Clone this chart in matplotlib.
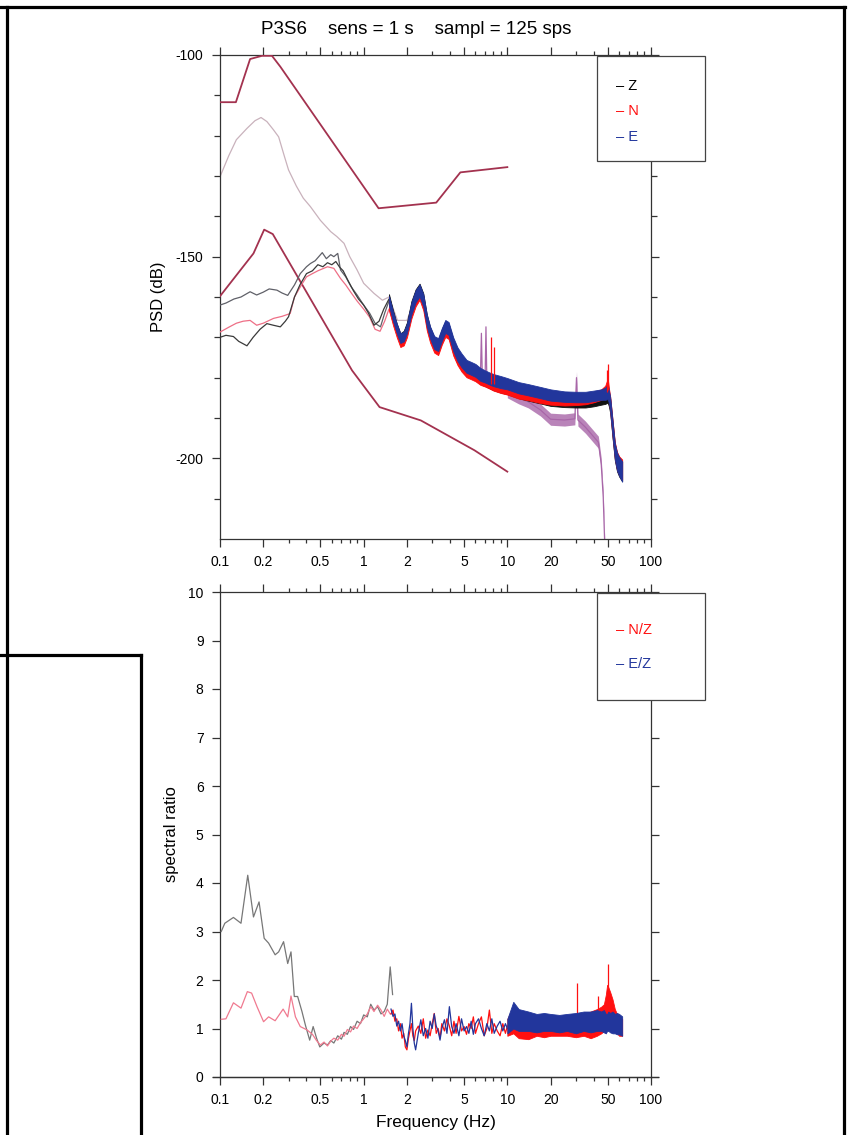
import matplotlib
matplotlib.use("Agg")
import matplotlib.pyplot as plt
from matplotlib.lines import Line2D
from matplotlib.patches import Rectangle
from matplotlib.ticker import FixedLocator, FixedFormatter, NullFormatter

plt.rcParams['font.family'] = ['Liberation Sans', 'DejaVu Sans']
plt.rcParams['axes.unicode_minus'] = False

# ---------------------------------------------------------------- data
title_text = "P3S6    sens = 1 s    sampl = 125 sps"
freq_ticks = [0.1, 0.2, 0.5, 1, 2, 5, 10, 20, 50, 100]
freq_tick_labels = ["0.1", "0.2", "0.5", "1", "2", "5", "10", "20", "50", "100"]
psd_ticks = [-100, -150, -200]
psd_tick_labels = ["-100", "-150", "-200"]
ratio_ticks = [0, 1, 2, 3, 4, 5, 6, 7, 8, 9, 10]

# high / low noise models
nhnm_f = [0.1, 0.129, 0.162, 0.196, 0.23, 0.263, 1.27, 3.2, 4.71, 10.0]
nhnm_db = [-111.7, -111.7, -101.0, -100.2, -100.2, -102.9, -138.0, -136.6, -129.1, -127.8]
nlnm_f = [0.1, 0.171, 0.203, 0.233, 0.83, 1.29, 2.5, 5.9, 10.0]
nlnm_db = [-159.8, -149.2, -143.3, -144.4, -178.2, -187.3, -190.6, -198.0, -203.3]

# light reference spectrum
ref_f = [0.10, 0.115, 0.13, 0.154, 0.175, 0.193, 0.212, 0.235, 0.256, 0.28, 0.30,
         0.34, 0.38, 0.426, 0.5, 0.59, 0.65, 0.73, 0.8, 0.9, 1.0, 1.18, 1.35, 1.5,
         1.72, 2.0, 2.37, 2.5, 2.7, 3.0, 3.3, 3.6, 3.9, 4.3, 5.0, 5.9, 6.5, 6.6,
         6.7, 7.0, 7.1, 7.2, 8.0, 9.0, 10, 12, 14, 17, 20, 25, 29.5, 30.3, 31,
         35, 40, 43, 45, 46.5, 47.6]
ref_db = [-130.2, -125.0, -121.0, -118.2, -116.3, -115.5, -116.5, -118.5, -120.3, -125.0, -128.5,
          -132.5, -135.5, -137.6, -141.0, -143.8, -145.0, -146.7, -150.0, -153.3, -156.6, -159.1, -160.8, -160.0,
          -165.8, -165.8, -159.1, -159.0, -165.0, -170.0, -172.5, -168.5, -167.5, -172.5, -176.5, -178.5, -179.5, -169.0,
          -180.0, -180.3, -167.4, -180.5, -181.5, -182.3, -183.5, -185.0, -186.0, -188.0, -190.3, -190.5, -190.2, -180.0, -190.5,
          -192.3, -194.7, -196.0, -201.3, -209.6, -221.0]

# long-window spectra of Z, N, E below 1.6 Hz
z_low_f = [0.10, 0.11, 0.124, 0.135, 0.154, 0.17, 0.19, 0.212, 0.235, 0.263, 0.285, 0.30,
           0.33, 0.36, 0.40, 0.44, 0.48, 0.52, 0.56, 0.60, 0.64, 0.68, 0.72, 0.78, 0.85,
           0.92, 1.0, 1.08, 1.18, 1.28, 1.38, 1.5, 1.6]
z_low_db = [-170.0, -169.5, -169.8, -171.0, -172.1, -170.0, -168.0, -166.6, -167.0, -167.4, -166.0, -164.9,
            -160.0, -157.0, -154.2, -153.5, -152.0, -152.5, -151.5, -152.0, -151.2, -152.6, -153.5, -156.0, -158.5,
            -160.5, -162.0, -164.0, -167.0, -166.0, -163.0, -160.5, -164.0]
e_low_f = [0.10, 0.11, 0.125, 0.14, 0.162, 0.18, 0.20, 0.22, 0.249, 0.27, 0.296, 0.33,
           0.362, 0.40, 0.426, 0.46, 0.515, 0.55, 0.59, 0.62, 0.66, 0.69, 0.75, 0.82,
           0.90, 1.0, 1.1, 1.2, 1.31, 1.4, 1.5, 1.6]
e_low_db = [-162.0, -161.5, -160.5, -160.0, -158.7, -159.5, -158.8, -158.0, -158.3, -159.0, -159.6, -157.0,
            -154.2, -152.5, -151.7, -151.0, -149.0, -150.5, -149.5, -150.0, -149.2, -153.3, -155.0, -157.5,
            -159.5, -162.0, -164.0, -166.5, -167.4, -164.0, -161.0, -165.0]
n_low_f = [0.10, 0.115, 0.13, 0.145, 0.162, 0.18, 0.20, 0.236, 0.27, 0.308, 0.33, 0.362,
           0.40, 0.44, 0.48, 0.56, 0.62, 0.69, 0.75, 0.82, 0.90, 1.0, 1.1, 1.2, 1.3,
           1.4, 1.5, 1.6]
n_low_db = [-168.7, -167.5, -166.5, -166.0, -165.8, -167.0, -166.5, -165.3, -164.8, -164.1, -160.0, -157.5,
            -155.0, -154.2, -153.5, -152.5, -152.9, -155.4, -157.0, -159.0, -161.0, -163.0, -165.0, -168.0, -168.5,
            -166.0, -163.0, -166.0]

# short-window spectra above 1.5 Hz (band centre and half-width of the scatter)
hf_f = [1.5, 1.6, 1.7, 1.8, 1.9, 2.0, 2.15, 2.3, 2.45, 2.6, 2.75, 2.9, 3.1, 3.3, 3.5, 3.7,
        3.9, 4.2, 4.5, 4.8, 5.2, 5.6, 6.0, 6.5, 7.0, 7.5, 8.0, 9.0, 10, 12, 14, 17, 20,
        25, 30, 35, 40, 45, 48, 50, 51, 52, 54, 56, 58, 60, 63]
z_hf_db = [-160.5, -164.5, -167.8, -170.2, -169.6, -167.5, -162.5, -159.6, -158.2, -160.6, -165.8, -169.0,
           -171.6, -172.2, -169.6, -167.6, -168.2, -172.2, -174.8, -176.4, -178.0, -178.5, -179.0, -180.0,
           -180.6, -181.1, -181.6, -182.2, -182.7, -183.7, -184.3, -185.0, -185.6, -186.0, -186.1, -186.1,
           -185.8, -185.4, -185.0, -184.4, -185.6, -187.0, -193.0, -198.5, -201.0, -202.2, -203.2]
n_hf_db = [-162.0, -165.8, -168.8, -171.2, -170.8, -168.8, -163.8, -160.8, -159.2, -161.8, -166.8, -169.8,
           -172.2, -172.8, -170.2, -168.3, -168.8, -172.8, -175.2, -176.8, -178.3, -178.8, -179.3, -180.2,
           -180.7, -181.2, -181.7, -182.3, -182.8, -183.8, -184.2, -184.9, -185.3, -185.6, -185.5, -185.3,
           -184.8, -184.2, -183.5, -182.0, -184.3, -186.5, -192.5, -198.0, -200.6, -201.8, -202.8]
e_hf_db = [-161.0, -164.8, -167.8, -170.2, -169.8, -167.8, -162.8, -159.8, -158.4, -160.8, -165.8, -168.8,
           -171.3, -171.8, -169.3, -167.3, -167.8, -171.7, -174.2, -175.7, -177.2, -177.7, -178.2, -179.2,
           -179.7, -180.2, -180.6, -181.1, -181.5, -182.5, -183.0, -183.7, -184.3, -184.7, -184.8, -184.8,
           -184.5, -184.2, -184.0, -183.5, -184.8, -186.6, -192.6, -198.2, -200.8, -202.0, -203.3]
hf_spread_db = [1.2, 1.2, 1.2, 1.2, 1.2, 1.2, 1.5, 1.5, 1.5, 1.5, 1.5, 1.5,
                1.6, 1.6, 1.6, 1.6, 1.6, 1.7, 1.7, 1.7, 1.6, 1.6, 1.6, 1.6,
                1.5, 1.5, 1.5, 1.5, 1.4, 1.4, 1.4, 1.4, 1.4, 1.3, 1.3, 1.3,
                1.3, 1.3, 1.5, 1.8, 1.6, 1.8, 2.0, 2.0, 2.2, 2.3, 2.5]
n_spike_f = [7.7, 8.1, 49.6, 50.2]
n_spike_base = [-181.5, -181.5, -183.5, -183.0]
n_spike_top = [-170.0, -172.5, -178.0, -176.5]
ref_band_half = 1.5

# spectral ratios, long window
ez_low_f = [0.102, 0.108, 0.124, 0.14, 0.156, 0.171, 0.187, 0.203, 0.218, 0.242, 0.256, 0.277,
            0.296, 0.312, 0.329, 0.347, 0.372, 0.393, 0.421, 0.445, 0.47, 0.495, 0.53, 0.56,
            0.59, 0.62, 0.66, 0.70, 0.73, 0.77, 0.81, 0.85, 0.90, 0.95, 1.0, 1.06, 1.12,
            1.18, 1.25, 1.32, 1.39, 1.46, 1.53, 1.59]
ez_low = [3.0, 3.17, 3.29, 3.17, 4.16, 3.3, 3.61, 2.86, 2.76, 2.52, 2.58, 2.79,
          2.34, 2.58, 1.66, 1.66, 1.35, 1.07, 0.76, 1.04, 0.8, 0.62, 0.7, 0.66,
          0.75, 0.7, 0.85, 0.78, 0.92, 0.88, 1.04, 0.98, 1.15, 1.1, 1.28, 1.24, 1.5,
          1.38, 1.45, 1.3, 1.35, 1.5, 2.27, 1.7]
nz_low_f = [0.102, 0.11, 0.124, 0.14, 0.155, 0.166, 0.181, 0.201, 0.218, 0.242, 0.275, 0.296,
            0.312, 0.335, 0.362, 0.404, 0.44, 0.47, 0.5, 0.53, 0.56, 0.59, 0.62, 0.66,
            0.70, 0.73, 0.77, 0.81, 0.85, 0.90, 0.95, 1.0, 1.06, 1.12, 1.18, 1.25, 1.32,
            1.39, 1.46, 1.53, 1.59]
nz_low = [1.19, 1.2, 1.53, 1.42, 1.76, 1.73, 1.45, 1.14, 1.24, 1.16, 1.40, 1.24,
          1.67, 1.24, 1.04, 0.97, 0.88, 0.75, 0.66, 0.72, 0.64, 0.74, 0.8, 0.76,
          0.88, 0.84, 0.98, 0.93, 1.05, 1.0, 1.12, 1.2, 1.3, 1.45, 1.35, 1.48, 1.38,
          1.25, 1.4, 1.3, 1.32]

# spectral ratios, short window 1.5-10 Hz
ratio_mid_f = [1.55, 1.6, 1.65, 1.7, 1.75, 1.8, 1.85, 1.9, 1.95, 2.0, 2.05, 2.1, 2.15, 2.2,
               2.25, 2.3, 2.4, 2.5, 2.6, 2.7, 2.8, 2.9, 3.0, 3.1, 3.2, 3.3, 3.4, 3.5,
               3.65, 3.8, 3.95, 4.1, 4.25, 4.4, 4.6, 4.8, 5.0, 5.2, 5.4, 5.6, 5.8, 6.0,
               6.3, 6.6, 6.9, 7.2, 7.5, 7.8, 8.1, 8.5, 8.9, 9.3, 9.7, 10.0]
ez_mid = [1.4, 1.25, 1.3, 1.05, 1.15, 0.95, 1.1, 0.85, 0.75, 0.62, 0.9, 1.1, 1.52, 1.0,
          0.7, 0.56, 0.9, 1.18, 0.85, 1.0, 0.8, 1.15, 1.0, 1.3, 1.05, 0.95, 0.76, 1.0,
          1.18, 0.9, 1.45, 1.04, 0.9, 1.1, 0.85, 1.2, 0.95, 1.04, 0.9, 1.15, 0.88, 1.1,
          1.2, 1.0, 0.85, 1.1, 0.95, 1.2, 0.9, 1.05, 1.15, 0.95, 1.1, 1.0]
nz_mid = [1.3, 1.38, 1.15, 1.2, 0.95, 1.1, 0.8, 0.9, 0.62, 0.56, 0.8, 0.95, 1.1, 0.85,
          0.75, 0.95, 1.05, 0.9, 1.2, 0.8, 0.97, 0.85, 1.1, 1.31, 0.9, 1.0, 0.8, 1.1,
          0.95, 1.2, 1.05, 0.85, 1.15, 0.9, 1.25, 0.95, 1.04, 0.88, 1.1, 1.0, 1.24, 0.9,
          1.1, 1.24, 0.85, 1.0, 1.38, 0.9, 1.1, 0.95, 0.85, 1.1, 0.9, 1.05]

# spectral ratios, short window 10-63 Hz (scatter envelopes)
ratio_hf_f = [10, 11, 12, 14, 16, 18, 20, 23, 26, 30, 34, 38, 42, 45, 47, 48.5, 49.5,
              50.5, 52, 54, 56, 58, 60, 63]
ez_hf_lo = [0.9, 1.0, 0.95, 0.95, 0.92, 0.95, 0.95, 0.92, 0.95, 0.9, 0.95, 0.92, 0.95,
            0.95, 0.92, 0.9, 0.95, 0.95, 0.92, 0.9, 0.9, 0.88, 0.88, 0.85]
ez_hf_hi = [1.2, 1.55, 1.4, 1.35, 1.3, 1.32, 1.3, 1.28, 1.3, 1.32, 1.35, 1.35, 1.38,
            1.35, 1.38, 1.3, 1.3, 1.35, 1.32, 1.35, 1.3, 1.32, 1.3, 1.25]
nz_hf_lo = [0.85, 0.9, 0.8, 0.78, 0.85, 0.82, 0.85, 0.85, 0.85, 0.82, 0.85, 0.8, 0.85,
            0.9, 0.95, 1.0, 1.2, 1.2, 1.15, 1.1, 1.0, 0.9, 0.85, 0.85]
nz_hf_hi = [1.2, 1.45, 1.3, 1.25, 1.2, 1.25, 1.25, 1.2, 1.25, 1.3, 1.3, 1.35, 1.4,
            1.45, 1.5, 1.7, 1.9, 1.85, 1.75, 1.6, 1.4, 1.3, 1.25, 1.2]
nz_spike_f = [30.5, 43.0, 50.5]
nz_spike_base = [1.2, 1.2, 1.5]
nz_spike_top = [1.93, 1.66, 2.34]

# ---------------------------------------------------------------- style
W, H = 848, 1135
MODEL = "#a3324f"
REF_LIGHT = "#c9b2bc"
REF_DARK = "#a866a8"
RED = "#ff1010"
BLUE = "#22369c"
BLACK = "#111111"
SPINE = "#333333"
TICK_FS = 10

fig = plt.figure(figsize=(W / 100, H / 100), dpi=100)


def fx(x):
    return x / W


def fy(y):
    return 1 - y / H


def add_axes_px(left, top, right, bottom):
    return fig.add_axes([fx(left), fy(bottom), (right - left) / W, (bottom - top) / H])


def style_axes(ax):
    ax.set_xscale("log")
    ax.set_xlim(0.1, 100)
    minor = []
    for dec in (0.1, 1, 10):
        for m in range(2, 10):
            v = round(m * dec, 3)
            if v not in freq_ticks:
                minor.append(v)
    ax.xaxis.set_major_locator(FixedLocator(freq_ticks))
    ax.xaxis.set_major_formatter(FixedFormatter(freq_tick_labels))
    ax.xaxis.set_minor_locator(FixedLocator(minor))
    ax.xaxis.set_minor_formatter(NullFormatter())
    for s in ax.spines.values():
        s.set_color(SPINE)
        s.set_linewidth(0.9)
    ax.tick_params(which="both", direction="out", top=True, right=True,
                   color=SPINE, width=0.9, labelsize=TICK_FS, pad=6)
    ax.tick_params(axis="x", which="major", length=5.5)
    ax.tick_params(axis="x", which="minor", length=2.6)
    ax.tick_params(axis="y", which="major", length=5.8)
    ax.tick_params(axis="y", which="minor", length=4.3)


# ---------------------------------------------------------------- PSD panel
ax1 = add_axes_px(220, 55, 651, 539)
style_axes(ax1)
ax1.set_ylim(-220, -100)
ax1.yaxis.set_major_locator(FixedLocator(psd_ticks))
ax1.yaxis.set_major_formatter(FixedFormatter(psd_tick_labels))
ax1.yaxis.set_minor_locator(FixedLocator([-110, -120, -130, -140, -160, -170, -180, -190, -210]))
ax1.set_ylabel("PSD (dB)", fontsize=12, labelpad=7)

ax1.plot(nhnm_f, nhnm_db, color=MODEL, lw=1.3, zorder=3)
ax1.plot(nlnm_f, nlnm_db, color=MODEL, lw=1.3, zorder=3)

k_dark = ref_f.index(5.0)
k_band = ref_f.index(10)
ax1.plot(ref_f[:k_dark + 1], ref_db[:k_dark + 1], color=REF_LIGHT, lw=0.9, zorder=2)
ax1.plot(ref_f[k_dark:], ref_db[k_dark:], color=REF_DARK, lw=0.9, zorder=2)
ax1.fill_between(ref_f[k_band:], [v - ref_band_half for v in ref_db[k_band:]],
                 [v + ref_band_half for v in ref_db[k_band:]], color=REF_DARK,
                 lw=0, alpha=0.8, zorder=2)

ax1.plot(e_low_f, e_low_db, color="#5f6068", lw=0.9, zorder=4)
ax1.plot(n_low_f, n_low_db, color="#ee6f86", lw=0.9, zorder=4)
ax1.plot(z_low_f, z_low_db, color="#3a3a3a", lw=0.9, zorder=4)

for centre, col in ((z_hf_db, BLACK), (n_hf_db, RED), (e_hf_db, BLUE)):
    ax1.fill_between(hf_f, [c - s for c, s in zip(centre, hf_spread_db)],
                     [c + s for c, s in zip(centre, hf_spread_db)],
                     color=col, lw=0.6, edgecolor=col, zorder=5)
ax1.vlines(n_spike_f, n_spike_base, n_spike_top, color=RED, lw=0.9, zorder=5)

# ---------------------------------------------------------------- ratio panel
ax2 = add_axes_px(220, 592, 651, 1077)
style_axes(ax2)
ax2.set_ylim(0, 10)
ax2.yaxis.set_major_locator(FixedLocator(ratio_ticks))
ax2.set_ylabel("spectral ratio", fontsize=12, labelpad=7)
ax2.set_xlabel("Frequency (Hz)", fontsize=12.5, labelpad=6)
ax2.plot([0.0894, 111.9], [0, 0], color=SPINE, lw=0.9, clip_on=False, zorder=6)

ax2.plot(ez_low_f, ez_low, color="#777777", lw=0.9, zorder=3)
ax2.plot(nz_low_f, nz_low, color="#f07a90", lw=0.9, zorder=3)
ax2.plot(ratio_mid_f, nz_mid, color=RED, lw=0.9, zorder=4)
ax2.plot(ratio_mid_f, ez_mid, color=BLUE, lw=0.9, zorder=4)
ax2.fill_between(ratio_hf_f, nz_hf_lo, nz_hf_hi, color=RED, lw=0.6, edgecolor=RED, zorder=4)
ax2.vlines(nz_spike_f, nz_spike_base, nz_spike_top, color=RED, lw=0.9, zorder=4)
ax2.fill_between(ratio_hf_f, ez_hf_lo, ez_hf_hi, color=BLUE, lw=0.6, edgecolor=BLUE, zorder=5)

# ---------------------------------------------------------------- title, legends, frame
fig.text(fx(416), fy(29), title_text, ha="center", va="center", fontsize=13.5)


def legend_box(top, bottom, entries):
    fig.patches.append(Rectangle((fx(597), fy(bottom)), (705 - 597) / W, (bottom - top) / H,
                                 transform=fig.transFigure, facecolor="white",
                                 edgecolor="#444444", lw=0.9, zorder=3))
    for label, col, y in entries:
        fig.text(fx(616), fy(y), "\u2013 " + label, color=col, fontsize=10.5,
                 ha="left", va="center", zorder=4)


legend_box(56, 161, [("Z", "black", 86), ("N", RED, 111), ("E", BLUE, 137)])
legend_box(593, 700, [("N/Z", RED, 630), ("E/Z", BLUE, 664)])

frame = [((0, 6.5), (845, 6.5)), ((844, 6.5), (844, H)), ((7.3, 6.5), (7.3, H)),
         ((0, 654.5), (141, 654.5)), ((140.7, 654.5), (140.7, H))]
for (x0, y0), (x1, y1) in frame:
    fig.add_artist(Line2D([fx(x0), fx(x1)], [fy(y0), fy(y1)], transform=fig.transFigure,
                          color="black", lw=2.3, solid_capstyle="projecting"))

fig.savefig("out.png", dpi=100)
